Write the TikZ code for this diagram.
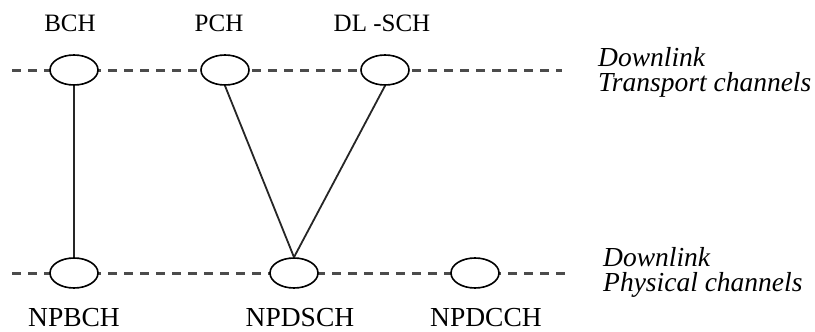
\documentclass[tikz,border=0pt]{standalone}
\usepackage{fontspec}
\setmainfont{Liberation Serif}
\usetikzlibrary{shapes.geometric}
\begin{document}
\begin{tikzpicture}[x=1pt,y=-1pt,
  chan/.style={ellipse,draw=black,fill=white,line width=1.6pt,minimum width=48pt,minimum height=30pt,inner sep=0pt},
  dline/.style={draw=black!70,line width=3pt,dash pattern=on 9pt off 7pt},
  conn/.style={draw=black!85,line width=1.8pt},
  toplab/.style={anchor=base,inner sep=0pt,font=\fontsize{25}{30}\selectfont},
  botlab/.style={anchor=base,inner sep=0pt,font=\fontsize{27.5}{32}\selectfont},
  side/.style={anchor=base west,inner sep=0pt,align=left,font=\fontsize{27.5}{25}\selectfont\itshape}]
\useasboundingbox (0,0) rectangle (815,332);
% dashed lines
\coordinate (t1) at (12,70);
\coordinate (t2) at (562,70);
\coordinate (b1) at (12,273);
\coordinate (b2) at (572,273);
\draw[dline] (t1) -- (t2);
\draw[dline] (b1) -- (b2);
% ellipses
\node[chan] (bch) at (74,70) {};
\node[chan] (pch) at (225,70) {};
\node[chan] (dlsch) at (385,70) {};
\node[chan] (npbch) at (74,273) {};
\node[chan] (npdsch) at (294,273) {};
\node[chan] (npdcch) at (475,273) {};
% connectors
\draw[conn] (bch.south) -- (npbch.north);
\draw[conn] (pch.south) -- (npdsch.north);
\draw[conn] (dlsch.south) -- (npdsch.north);
% labels
\node[toplab] (lbch) at (70,31) {BCH};
\node[toplab] (lpch) at (219,31) {PCH};
\node[toplab] (ldlsch) at (382,31) {DL -SCH};
\node[botlab] (lnpbch) at (74,326) {NPBCH};
\node[botlab] (lnpdsch) at (300,326) {NPDSCH};
\node[botlab] (lnpdcch) at (486,326) {NPDCCH};
\node[side] (tc) at (598,91) {Downlink\\Transport channels};
\node[side] (pc) at (603,291) {Downlink\\Physical channels};
\end{tikzpicture}
\end{document}
